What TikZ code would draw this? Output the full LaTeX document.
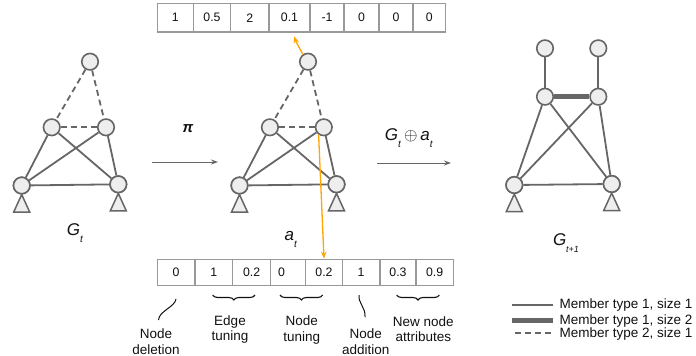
\documentclass[tikz,border=0pt]{standalone}
\usepackage{fontspec}
\setmainfont{Liberation Sans}
\usetikzlibrary{arrows.meta,decorations.pathreplacing,calc}
\definecolor{edgegray}{HTML}{666666}
\definecolor{nodefill}{HTML}{EEEEEE}
\definecolor{cellgray}{HTML}{999999}
\definecolor{myorange}{HTML}{FFA500}
\definecolor{txt}{HTML}{111111}
\newcommand{\subt}[2][10]{\raisebox{-7pt}{\fontsize{#1}{12}\selectfont\textit{#2}}}
\begin{document}
\begin{tikzpicture}[x=1pt,y=-1pt,
  gnode/.style={circle,draw=edgegray,fill=nodefill,line width=1.6pt,minimum size=16.5pt,inner sep=0pt},
  member/.style={draw=edgegray,line width=1.8pt},
  membertwo/.style={member,dash pattern=on 6pt off 4pt},
  thickmember/.style={draw=edgegray,line width=4.5pt},
  support/.style={draw=edgegray,fill=nodefill,line width=1.5pt,line join=miter},
  cell/.style={draw=cellgray,line width=1.3pt,fill=white,inner sep=0pt,text=txt,font=\fontsize{12.3}{14}\selectfont},
  topcell/.style={cell,minimum height=28.5pt},
  botcell/.style={cell,minimum height=26.2pt},
  lbl/.style={font=\fontsize{13.5}{15.5}\selectfont,align=center,inner sep=0pt,text=txt},
  biglbl/.style={font=\fontsize{17}{20}\selectfont,inner sep=0pt,text=txt},
  flowarrow/.style={draw=edgegray,line width=0.9pt,-{Stealth[length=7pt,width=5pt]}},
  orangearrow/.style={draw=myorange,line width=1.3pt,-{Stealth[length=7pt,width=5.5pt]}},
  bracestyle/.style={draw=txt,line width=1.1pt,decorate,decoration={brace,amplitude=5pt,mirror}},
  wavy/.style={draw=txt,line width=1pt}
]
\useasboundingbox (0,0) rectangle (696,356);

% ---------- top array ----------
\node[topcell,minimum width=36pt]   (t1) at (175.3,17.75) {1};
\node[topcell,minimum width=37.4pt] (t2) at (212,17.75) {0.5};
\node[topcell,minimum width=38.3pt] (t3) at (249.85,17.75) {2};
\node[topcell,minimum width=41pt]   (t4) at (289.5,17.75) {0.1};
\node[topcell,minimum width=34pt]   (t5) at (327,17.75) {-1};
\node[topcell,minimum width=35pt]   (t6) at (361.5,17.75) {0};
\node[topcell,minimum width=34pt]   (t7) at (396,17.75) {0};
\node[topcell,minimum width=32.5pt] (t8) at (429.25,17.75) {0};

% ---------- bottom array ----------
\node[botcell,minimum width=37.7pt] (c1) at (176.15,272.4) {0};
\node[botcell,minimum width=37.7pt] (c2) at (213.85,272.4) {1};
\node[botcell,minimum width=38pt]   (c3) at (251.7,272.4) {0.2};
\node[botcell,minimum width=35pt,text width=20pt,align=left] (c4) at (288.2,272.4) {0};
\node[botcell,minimum width=36.6pt] (c5) at (324,272.4) {0.2};
\node[botcell,minimum width=37.7pt] (c6) at (361.15,272.4) {1};
\node[botcell,minimum width=36pt]   (c7) at (398,272.4) {0.3};
\node[botcell,minimum width=37.3pt] (c8) at (434.65,272.4) {0.9};

% ---------- graph G_t ----------
\node[gnode] (a1) at (90,61.7) {};
\node[gnode] (a2) at (51.7,127.3) {};
\node[gnode] (a3) at (106,127.3) {};
\node[gnode] (a4) at (21.7,185.5) {};
\node[gnode] (a5) at (118.3,184.3) {};

% ---------- graph a_t ----------
\node[gnode] (b1) at (308,61.7) {};
\node[gnode] (b2) at (269.9,127.3) {};
\node[gnode] (b3) at (323.8,127.3) {};
\node[gnode] (b4) at (239.5,185.5) {};
\node[gnode] (b5) at (336.5,184.3) {};

% ---------- graph G_{t+1} ----------
\node[gnode] (g1) at (545,48.3) {};
\node[gnode] (g2) at (598.3,48.3) {};
\node[gnode] (g3) at (545,96.7) {};
\node[gnode] (g4) at (598.3,96.7) {};
\node[gnode] (g5) at (514.3,185) {};
\node[gnode] (g6) at (611.7,184) {};

% edges G_t
\draw[membertwo] (a1) -- (a2);
\draw[membertwo] (a1) -- (a3);
\draw[membertwo] (a2) -- (a3);
\draw[member] (a2) -- (a4);
\draw[member] (a2) -- (a5);
\draw[member] (a3) -- (a4);
\draw[member] (a3) -- (a5);
\draw[member] (a4) -- (a5);
% edges a_t
\draw[membertwo] (b1) -- (b2);
\draw[membertwo] (b1) -- (b3);
\draw[membertwo] (b2) -- (b3);
\draw[member] (b2) -- (b4);
\draw[member] (b2) -- (b5);
\draw[member] (b3) -- (b4);
\draw[member] (b3) -- (b5);
\draw[member] (b4) -- (b5);
% edges G_{t+1}
\draw[member] (g1) -- (g3);
\draw[member] (g2) -- (g4);
\draw[thickmember] (g3) -- (g4);
\draw[member] (g3) -- (g5);
\draw[member] (g3) -- (g6);
\draw[member] (g4) -- (g5);
\draw[member] (g4) -- (g6);
\draw[member] (g5) -- (g6);

% supports
\foreach \n in {a4,a5,b4,b5,g5,g6}{
  \draw[support] (\n.south) -- ++(-8,17.5) -- ++(16,0) -- cycle;
}
% redraw circles on top of supports
\foreach \n in {a4,a5,b4,b5,g5,g6}{
  \node[gnode] at (\n) {};
}

% labels of graphs
\node[biglbl] (lgt) at (75,233) {\textit{G}\subt{t}};
\node[biglbl] (lat) at (291,239) {\textit{a}\subt{t}};
\node[biglbl] (lgt1) at (566,243) {\textit{G}\subt[9]{t+1}};

% flow arrows
\coordinate (p1) at (152,162);
\coordinate (p2) at (218,162);
\draw[flowarrow] (p1) -- (p2);
\node[inner sep=0pt,text=txt,font=\fontsize{15}{18}\selectfont\bfseries\itshape] (pi) at (188,129) {π};
\coordinate (q1) at (377,163);
\coordinate (q2) at (451,163);
\draw[flowarrow] (q1) -- (q2);
\node[biglbl] (op) at (409,138) {\textit{G}\subt{t}\,$\oplus$\,\textit{a}\subt{t}};

% orange arrows
\coordinate (o1) at (294.3,36.3);
\draw[orangearrow] (b1.125) .. controls (299,47) and (296,42) .. (o1);
\draw[orangearrow] (b3.235) -- (c5.north);

% braces
\draw[bracestyle] (212.7,295) -- (255,295);
\draw[bracestyle] (280,295) -- (322.7,295);
\draw[bracestyle] (396.7,295) -- (439.3,295);

% wavy pointers
\coordinate (w1a) at (176,299);
\coordinate (w1b) at (158.5,320);
\draw[wavy] (w1a) .. controls (175,307) and (159,311) .. (w1b);
\coordinate (w2a) at (359,295);
\coordinate (w2b) at (365,317);
\draw[wavy] (w2a) .. controls (358,303) and (366,308) .. (w2b);

% action labels
\node[lbl] (ld) at (156,341.5) {Node\\deletion};
\node[lbl] (le) at (230,329.5) {Edge\\tuning};
\node[lbl] (ln) at (301.7,330) {Node\\tuning};
\node[lbl] (la) at (365.7,341.5) {Node\\addition};
\node[lbl] (lna) at (423.3,329) {New node\\attributes};

% legend
\coordinate (m1a) at (512,305);   \coordinate (m1b) at (553,305);
\coordinate (m2a) at (512,320.7); \coordinate (m2b) at (553,320.7);
\coordinate (m3a) at (512,332.7); \coordinate (m3b) at (553,332.7);
\draw[draw=edgegray,line width=1.6pt] (m1a) -- (m1b);
\draw[thickmember] (m2a) -- (m2b);
\draw[draw=edgegray,line width=1.6pt,dash pattern=on 6pt off 4pt,dash phase=-3pt] (m3a) -- (m3b);
\node[lbl,anchor=west] (k1) at (559.5,305) {Member type 1, size 1};
\node[lbl,anchor=west] (k2) at (559.5,321.5) {Member type 1, size 2};
\node[lbl,anchor=west] (k3) at (559.5,334) {Member type 2, size 1};
\end{tikzpicture}
\end{document}
